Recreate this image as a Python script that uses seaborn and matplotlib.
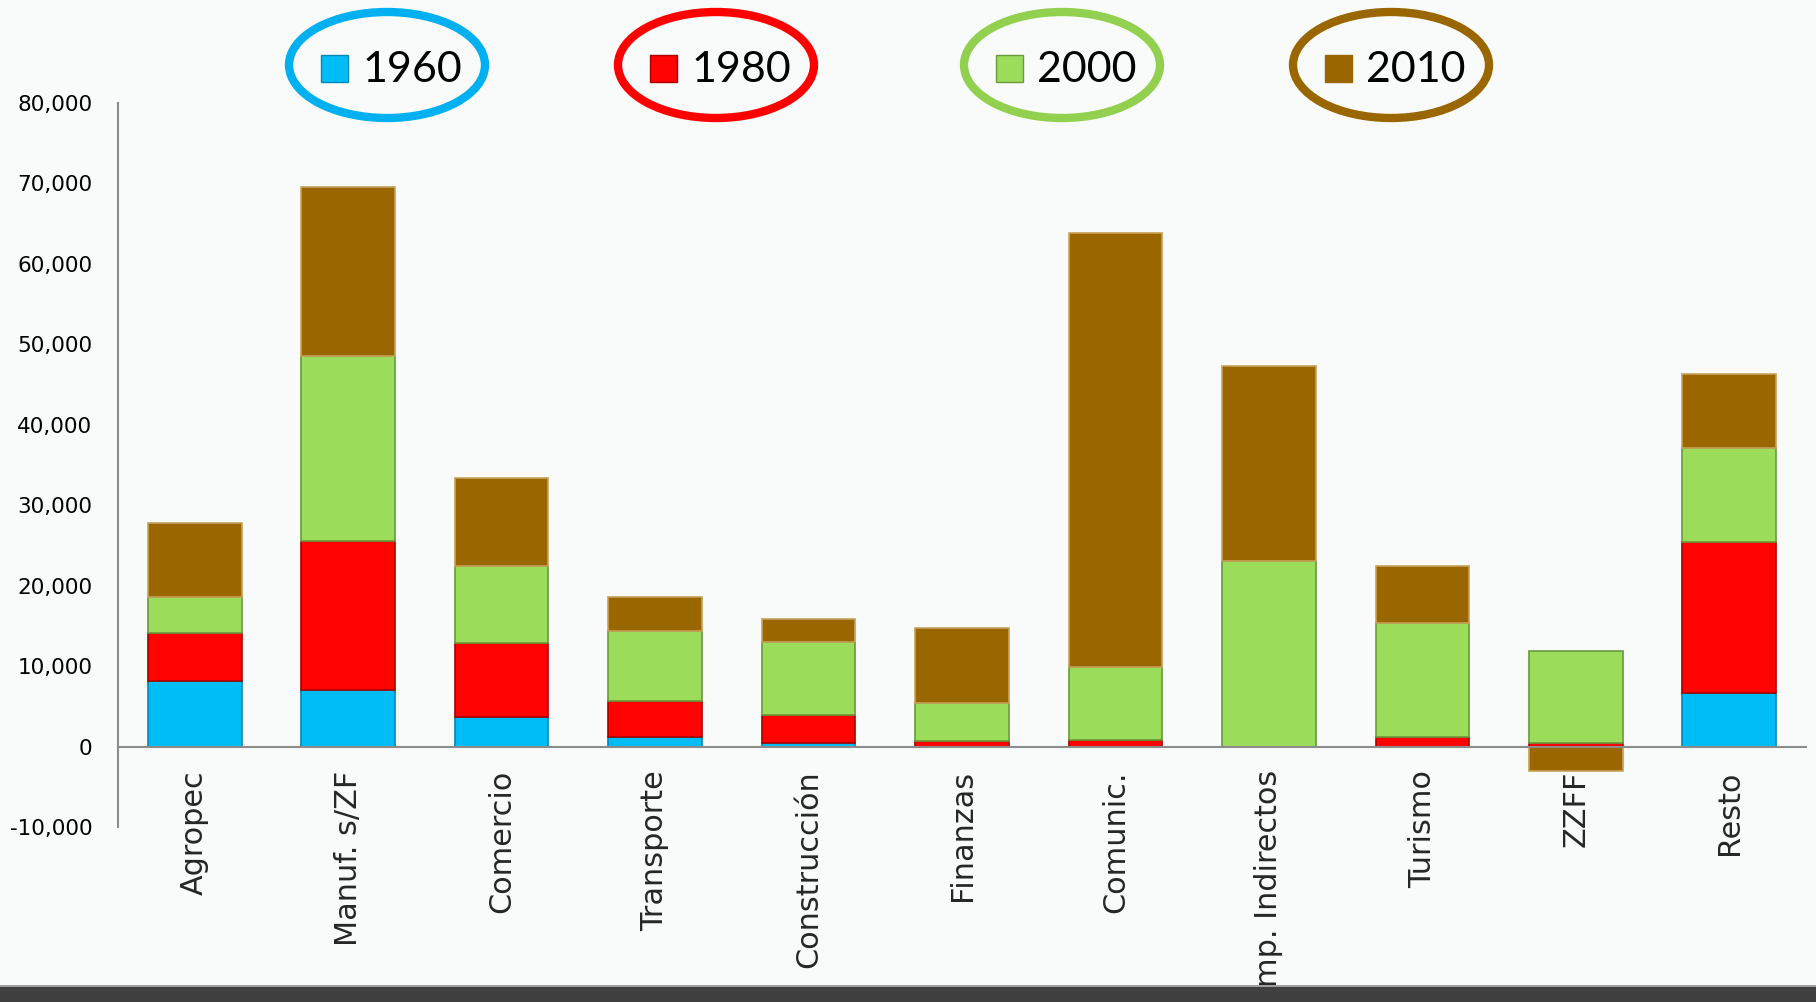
import numpy as np
import pandas as pd
import matplotlib
matplotlib.use("Agg")
import matplotlib.pyplot as plt
import seaborn as sns
from matplotlib.patches import Ellipse, Rectangle
from matplotlib.ticker import FuncFormatter

categories = ["Agropec", "Manuf. s/ZF", "Comercio", "Transporte", "Construcción",
              "Finanzas", "Comunic.", "Imp. Indirectos", "Turismo", "ZZFF", "Resto"]
years = ["1960", "1980", "2000", "2010"]
v1960 = [8100, 7000, 3650, 1150, 420, 0, 0, 0, 0, 0, 6600]
v1980 = [6050, 18500, 9250, 4500, 3530, 650, 800, 0, 1150, 500, 18850]
v2000 = [4450, 23100, 9500, 8700, 9100, 4750, 9100, 23050, 14150, 11400, 11700]
v2010 = [9200, 21000, 11000, 4250, 2850, 9350, 54000, 24250, 7200, -3000, 9200]
yticks = list(range(-10000, 80001, 10000))

colors = ["#00BEF5", "#FF0303", "#9BDC5B", "#996600"]
edge_colors = ["#0088B8", "#A80000", "#6A9A3A", "#C9A25A"]
ring_colors = ["#00B0F0", "#FF0000", "#92D050", "#996600"]
bg = "#F9FBFB"

W, H = 1816, 1002
sns.set_style("white")
plt.rcParams['font.family'] = ['DejaVu Sans']

fig = plt.figure(figsize=(W / 100, H / 100), dpi=100, facecolor=bg)
ax = fig.add_axes([118 / W, 1 - 827 / H, (1806 - 118) / W, (827 - 103) / H])
ax.set_facecolor(bg)

series = [v1960, v1980, v2000, v2010]
pos_base = np.zeros(len(categories))
neg_base = np.zeros(len(categories))
for vals, c, ec in zip(series, colors, edge_colors):
    vals = np.array(vals, dtype=float)
    bottoms = np.where(vals >= 0, pos_base, neg_base)
    df = pd.DataFrame({"cat": categories, "val": vals})
    sns.barplot(data=df, x="cat", y="val", order=categories, color=c,
                bottom=bottoms, width=0.61, edgecolor=ec, linewidth=1.2,
                errorbar=None, saturation=1, ax=ax, zorder=3)
    pos_base += np.where(vals >= 0, vals, 0)
    neg_base += np.where(vals < 0, vals, 0)

ax.set_xlim(-0.5, len(categories) - 0.5)
ax.set_ylim(-10000, 80000)
ax.set_xlabel("")
ax.set_ylabel("")
for s in ["top", "right"]:
    ax.spines[s].set_visible(False)
ax.spines["bottom"].set_position(("data", 0))
ax.spines["left"].set_bounds(-10000, 80000)
for s in ["left", "bottom"]:
    ax.spines[s].set_color("#8C8C8C")
    ax.spines[s].set_linewidth(1.5)
    ax.spines[s].set_zorder(4)

ax.set_yticks(yticks)
ax.yaxis.set_major_formatter(FuncFormatter(lambda v, p: f"{int(v):,}"))
ax.tick_params(axis="y", direction="out", length=6.5, width=1.2,
               color="#8C8C8C", pad=12, labelsize=15.5, labelcolor="black")

ax.set_xticks(range(len(categories)))
ax.set_xticklabels(categories, rotation=90, fontsize=21.8, va="top", ha="center")
ax.tick_params(axis="x", which="major", length=0, pad=17)
ax.set_xticks(np.arange(-0.5, len(categories), 1), minor=True)
ax.tick_params(axis="x", which="minor", direction="out", length=8.5, width=1.2,
               color="#8C8C8C")

# Legend with ellipses
centers = [387, 716, 1062, 1391]
for cx, yr, c, ec, rc in zip(centers, years, colors, edge_colors, ring_colors):
    fig.add_artist(Ellipse((cx / W, 1 - 65 / H), 196 / W, 106 / H,
                           transform=fig.transFigure, fill=False,
                           edgecolor=rc, linewidth=6))
    fig.add_artist(Rectangle(((cx - 66) / W, 1 - 82 / H), 27 / W, 27 / H,
                             transform=fig.transFigure, facecolor=c,
                             edgecolor=ec if yr != "2010" else c,
                             linewidth=1))
    fig.text((cx - 25) / W, 1 - 82 / H, yr, fontsize=31, family=["Lato", "DejaVu Sans"],
             va="baseline", ha="left", color="black")

# bottom dark band
fig.add_artist(Rectangle((0, 0), 1, 15 / H, transform=fig.transFigure,
                         facecolor="#404040", edgecolor="none", zorder=10))
fig.add_artist(Rectangle((0, 15 / H), 1, 2 / H, transform=fig.transFigure,
                         facecolor="#A0A0A0", edgecolor="none", zorder=10))

fig.savefig("out.png", dpi=100, facecolor=bg)
